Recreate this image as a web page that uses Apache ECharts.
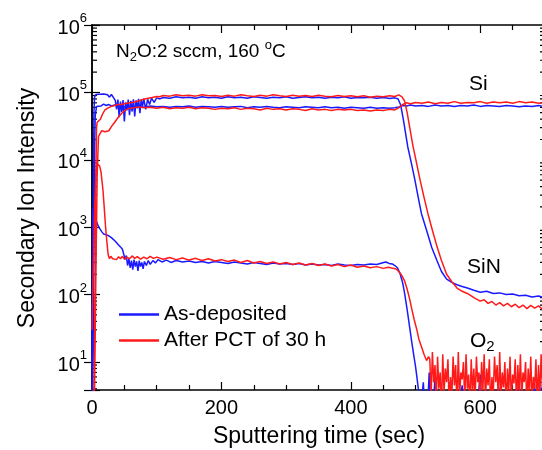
<!DOCTYPE html>
<html>
<head>
<meta charset="utf-8">
<script src="https://cdn.jsdelivr.net/npm/echarts@6/dist/echarts.min.js"></script>
<style>
  html, body { margin: 0; padding: 0; background: #fff; }
  #chart { width: 542px; height: 450px; }
</style>
</head>
<body>
<div id="chart"></div>
<script>
// [time (sec), intensity]
const asDepSi = [[0,2],[2,15],[3,800],[4,1.5e4],[5,4.5e4],[7,6.2e4],[10,6.6e4],[14,6.3e4],[18,6.7e4],[22,6.4e4],[26,6.6e4],[30,6.3e4],[35,6.5e4],[40,6.2e4],[45,6.4e4],[50,6.1e4],[55,6.3e4],[60,6.0e4],[70,6.2e4],[80,6.0e4],[90,6.3e4],[100,6.1e4],[110,6.2e4],[120,6.0e4],[130,6.2e4],[140,6.1e4],[150,6.3e4],[160,6.0e4],[170,6.2e4],[180,6.1e4],[190,6.0e4],[200,6.2e4],[210,6.0e4],[220,6.1e4],[230,6.2e4],[240,5.9e4],[250,6.1e4],[260,6.0e4],[270,6.2e4],[280,6.0e4],[290,5.9e4],[300,6.1e4],[310,6.0e4],[320,5.9e4],[330,6.1e4],[340,6.0e4],[350,5.9e4],[360,6.1e4],[370,5.9e4],[380,6.0e4],[390,5.8e4],[400,6.0e4],[410,5.9e4],[420,5.8e4],[430,6.0e4],[440,5.8e4],[450,5.9e4],[460,5.8e4],[468,5.9e4],[474,6.1e4],[480,6.4e4],[486,6.3e4],[492,6.5e4],[500,6.3e4],[510,6.4e4],[520,6.2e4],[530,6.5e4],[540,6.3e4],[550,6.4e4],[560,6.2e4],[570,6.4e4],[580,6.3e4],[590,6.5e4],[600,6.2e4],[610,6.4e4],[620,6.3e4],[630,6.2e4],[640,6.4e4],[650,6.3e4],[660,6.1e4],[670,6.3e4],[680,6.2e4],[690,6.4e4],[700,6.1e4]];

const asDepSiN = [[0,2],[1,40],[2,2500],[3,5e4],[4,8.6e4],[6,9.3e4],[9,8.7e4],[12,9.4e4],[15,8.8e4],[18,9.5e4],[21,8.9e4],[24,9.2e4],[27,8.5e4],[30,9.3e4],[33,8.7e4],[36,7.6e4],[38,5.6e4],[40,7.8e4],[42,4.3e4],[44,7.3e4],[46,5.1e4],[48,7.7e4],[50,3.7e4],[52,7.1e4],[54,5.4e4],[56,7.8e4],[58,4.6e4],[60,7.5e4],[62,5.2e4],[64,7.9e4],[66,4.4e4],[68,7.6e4],[70,5.8e4],[72,8.0e4],[74,4.9e4],[76,7.8e4],[78,6.1e4],[80,8.1e4],[83,5.6e4],[86,7.9e4],[89,6.6e4],[92,8.2e4],[96,7.1e4],[100,8.3e4],[105,8.0e4],[110,8.4e4],[120,8.2e4],[130,8.6e4],[140,8.3e4],[150,8.5e4],[160,8.2e4],[170,8.6e4],[180,8.3e4],[190,8.5e4],[200,8.2e4],[210,8.6e4],[220,8.3e4],[230,8.5e4],[240,8.2e4],[250,8.6e4],[260,8.4e4],[270,8.2e4],[280,8.5e4],[290,8.3e4],[300,8.6e4],[310,8.2e4],[320,8.4e4],[330,8.6e4],[340,8.3e4],[350,8.5e4],[360,8.2e4],[370,8.5e4],[380,8.3e4],[390,8.6e4],[400,8.2e4],[410,8.4e4],[420,8.3e4],[430,8.5e4],[440,8.2e4],[450,8.4e4],[460,8.1e4],[468,8.3e4],[473,8.0e4],[477,6.5e4],[481,4.0e4],[488,1.55e4],[494,8.5e3],[499,5.0e3],[504,2.8e3],[509,1.6e3],[517,900],[525,500],[533,320],[540,220],[548,170],[556,152],[564,140],[572,132],[580,125],[590,116],[600,108],[610,112],[620,104],[630,106],[640,100],[650,102],[660,96],[670,98],[680,92],[690,95],[700,89]];

const asDepO2 = [[0,8],[1,1900],[2,2000],[4,1600],[6,1300],[9,1070],[12,950],[15,860],[18,790],[21,760],[24,760],[27,740],[30,700],[33,660],[36,620],[40,560],[44,510],[47,470],[49,400],[51,330],[53,380],[55,270],[57,340],[59,250],[61,320],[63,235],[65,330],[67,260],[69,310],[71,225],[73,320],[75,260],[77,300],[79,240],[81,310],[84,270],[87,320],[90,280],[94,320],[98,295],[102,330],[108,305],[115,325],[122,300],[130,320],[140,305],[150,315],[160,300],[170,310],[180,295],[190,310],[200,300],[210,290],[220,305],[230,295],[240,285],[250,300],[260,290],[270,280],[280,295],[290,285],[300,290],[310,280],[320,290],[330,275],[340,285],[350,275],[360,280],[370,270],[380,285],[390,275],[400,270],[410,280],[420,275],[430,285],[440,280],[448,295],[454,305],[459,290],[464,285],[468,270],[472,250],[476,205],[480,150],[483,105],[487,60],[491,32],[494,20],[497,13],[500,8.5],[502,6],[504,4.2],[506,3],[508,2],[512,5],[514,2],[518,1.5],[521,7],[523,2],[527,1.8],[530,6],[532,2],[537,1.5],[542,2],[548,1.6],[553,5],[555,1.8],[560,2],[566,1.5],[572,4.5],[574,1.6],[580,2],[588,1.5],[595,2],[600,6.5],[602,1.8],[610,1.5],[618,2],[625,1.6],[632,4.8],[634,1.8],[640,1.5],[648,2],[655,1.6],[660,5.5],[662,1.8],[670,2],[678,1.5],[684,4.6],[686,1.6],[692,2],[698,7],[700,2]];

const pctSi = [[0,2],[4,4],[6,200],[8,6e3],[10,2.2e4],[12,2.4e4],[15,2.7e4],[17,2.8e4],[20,2.6e4],[23,2.5e4],[26,2.7e4],[30,3.1e4],[35,3.6e4],[40,4.2e4],[46,4.9e4],[52,5.5e4],[58,5.8e4],[65,5.9e4],[72,6.1e4],[80,5.9e4],[90,6.0e4],[100,5.8e4],[110,6.0e4],[120,5.7e4],[130,5.9e4],[140,5.8e4],[150,6.0e4],[160,5.7e4],[170,5.9e4],[180,5.8e4],[190,5.6e4],[200,5.8e4],[210,5.7e4],[220,5.9e4],[230,5.6e4],[240,5.8e4],[250,5.7e4],[260,5.5e4],[270,5.8e4],[280,5.6e4],[290,5.7e4],[300,5.5e4],[310,5.7e4],[320,5.6e4],[330,5.4e4],[340,5.7e4],[350,5.5e4],[360,5.6e4],[370,5.4e4],[380,5.6e4],[390,5.5e4],[400,5.6e4],[410,5.4e4],[420,5.5e4],[430,5.3e4],[440,5.5e4],[450,5.4e4],[460,5.6e4],[468,5.5e4],[474,5.9e4],[480,6.6e4],[486,7.0e4],[492,6.8e4],[500,7.1e4],[510,6.9e4],[520,7.2e4],[530,6.8e4],[540,7.1e4],[550,6.9e4],[560,7.3e4],[570,6.9e4],[580,7.1e4],[590,7.0e4],[600,7.3e4],[610,6.9e4],[620,7.2e4],[630,7.0e4],[640,7.2e4],[650,6.9e4],[660,7.3e4],[670,7.0e4],[680,7.2e4],[690,6.9e4],[700,7.1e4]];

const pctSiN = [[0,2],[3,4],[5,150],[6,6e3],[7,3e4],[8,3.6e4],[10,3.4e4],[13,4.0e4],[16,4.7e4],[20,5.5e4],[25,5.9e4],[30,6.2e4],[35,6.4e4],[40,6.6e4],[45,6.6e4],[50,6.8e4],[58,7.0e4],[66,7.2e4],[74,7.6e4],[80,7.9e4],[87,8.2e4],[93,8.4e4],[100,8.7e4],[105,8.6e4],[110,9.0e4],[120,8.8e4],[130,9.2e4],[140,8.9e4],[150,9.1e4],[160,8.8e4],[170,9.2e4],[180,8.9e4],[190,9.0e4],[200,8.7e4],[210,9.1e4],[220,8.8e4],[230,9.2e4],[240,8.9e4],[250,8.7e4],[260,9.1e4],[270,8.8e4],[280,9.2e4],[290,8.9e4],[300,8.7e4],[310,9.1e4],[320,8.8e4],[330,9.0e4],[340,8.7e4],[350,9.1e4],[360,8.8e4],[370,8.6e4],[380,9.0e4],[390,8.7e4],[400,8.9e4],[410,8.6e4],[420,8.9e4],[430,8.5e4],[440,8.8e4],[450,8.6e4],[460,8.9e4],[468,8.7e4],[474,9.2e4],[479,8.6e4],[483,7.5e4],[487,5.0e4],[491,3.0e4],[496,1.6e4],[501,9.5e3],[507,5.0e3],[513,2.8e3],[519,1.6e3],[526,900],[533,520],[540,320],[548,200],[556,155],[564,125],[572,112],[580,104],[586,96],[592,88],[600,80],[606,84],[612,74],[618,79],[624,70],[630,76],[636,68],[642,74],[648,66],[654,72],[660,64],[666,70],[672,62],[678,69],[684,63],[690,68],[696,61],[700,65]];

const pctO2 = [[0,30],[2,250],[4,1800],[6,6000],[8,8800],[10,9000],[12,8000],[14,6500],[17,3500],[19,1900],[21,1000],[23,600],[25,390],[27,340],[29,370],[32,340],[35,360],[38,330],[41,365],[44,340],[47,370],[50,335],[54,360],[58,340],[62,375],[66,345],[70,365],[75,335],[80,360],[85,340],[90,370],[95,345],[100,360],[110,335],[120,355],[130,330],[140,350],[150,325],[160,345],[170,320],[180,340],[190,315],[200,330],[210,310],[220,325],[230,300],[240,320],[250,295],[260,310],[270,290],[280,305],[290,285],[300,300],[310,280],[320,295],[330,275],[340,290],[350,270],[360,285],[370,265],[380,280],[390,260],[400,275],[410,255],[420,265],[430,250],[440,260],[450,245],[458,255],[465,245],[470,240],[475,215],[479,190],[483,160],[487,120],[491,85],[494,62],[498,42],[502,30],[505,22],[509,17],[513,13],[517,10.5],[520,12],[522,11],[524,3],[526,14],[528,5],[530,9],[532,2.5],[534,12],[536,4],[538,7],[540,2],[542,13],[544,3.5],[546,8],[548,5],[550,11],[552,2.2],[554,6],[556,3],[558,12],[560,4.5],[562,9],[564,2],[566,14],[568,3],[570,7],[572,5.5],[574,10],[576,2.5],[578,13],[580,4],[582,6.5],[584,2],[586,11],[588,3.5],[590,8],[592,2.8],[594,12],[596,5],[598,7],[600,2.2],[602,10],[604,3.8],[606,13],[608,2.5],[610,8],[612,4.5],[614,11],[616,2],[618,6],[620,3.2],[622,12],[624,5],[626,9],[628,2.4],[630,14],[632,3],[634,7],[636,4.2],[638,10],[640,2],[642,8],[644,3.6],[646,12],[648,2.6],[650,6.5],[652,4.8],[654,11],[656,2.2],[658,9],[660,3.4],[662,13],[664,2.8],[666,7],[668,5],[670,10],[672,2],[674,8],[676,3.5],[678,12],[680,2.5],[682,6],[684,4],[686,11],[688,2.2],[690,9],[692,3],[694,13],[696,4.4],[698,7.5],[700,2.6]];

const legendNames = ['As-deposited', 'After PCT of 30 h'];
const xTicks = { min: 0, max: 700, interval: 200 };
const yRange = { min: 3.84, max: 1e6 };
const decades = [1, 10, 100, 1000, 1e4, 1e5];
const minorSteps = [2, 3, 4, 5, 6, 7, 8, 9];

const BLUE = '#1a1aff';
const RED = '#ff1a1a';
const FONT = 'Liberation Sans, Arial, sans-serif';

// log minor ticks (2..9 per decade) drawn through the y scale
const minorY = [];
decades.forEach((d) => {
  minorSteps.forEach((k) => {
    if (k * d >= yRange.min && k * d <= yRange.max) minorY.push([0, k * d]);
  });
});

const chart = echarts.init(document.getElementById('chart'), null, { renderer: 'canvas' });

const lineSeries = (name, data, color) => ({
  name,
  type: 'line',
  data,
  symbol: 'none',
  showSymbol: false,
  clip: true,
  lineStyle: { color, width: 1.5 },
  itemStyle: { color },
  emphasis: { disabled: true },
  animation: false,
});

const yLabel = (value) => {
  const e = Math.log10(value);
  const r = Math.round(e);
  if (Math.abs(e - r) > 1e-6) return '';
  return '{b|10}{s|' + r + '}';
};

const tickStyle = { color: '#000', width: 1.2 };

const option = {
  animation: false,
  grid: { left: 92, top: 25, width: 453, height: 365, containLabel: false, outerBoundsMode: 'none' },
  legend: {
    data: legendNames,
    orient: 'vertical',
    left: 119,
    top: 304,
    padding: 0,
    icon: 'rect',
    itemWidth: 40,
    itemHeight: 2.5,
    itemGap: 5,
    textStyle: { fontFamily: FONT, fontSize: 21, color: '#000' },
    selectedMode: false,
  },
  xAxis: [
    {
      type: 'value',
      min: xTicks.min,
      max: xTicks.max,
      interval: xTicks.interval,
      axisLine: { lineStyle: { color: '#000', width: 1.5 } },
      axisTick: { inside: true, length: 8, lineStyle: tickStyle },
      minorTick: { show: true, splitNumber: 4, length: 5, lineStyle: tickStyle },
      splitLine: { show: false },
      axisLabel: { color: '#000', fontFamily: FONT, fontSize: 20, margin: 8, showMaxLabel: false },
    },
    {
      type: 'value',
      position: 'top',
      min: xTicks.min,
      max: xTicks.max,
      interval: xTicks.interval,
      axisLine: { lineStyle: { color: '#000', width: 1.5 } },
      axisTick: { inside: true, length: 8, lineStyle: tickStyle },
      minorTick: { show: true, splitNumber: 4, length: 5, lineStyle: tickStyle },
      splitLine: { show: false },
      axisLabel: { show: false },
    },
  ],
  yAxis: [
    {
      type: 'log',
      logBase: 10,
      min: yRange.min,
      max: yRange.max,
      axisLine: { lineStyle: { color: '#000', width: 1.5 } },
      axisTick: { inside: true, length: 8, lineStyle: tickStyle },
      splitLine: { show: false },
      axisLabel: {
        formatter: yLabel,
        margin: 5,
        rich: {
          b: { fontFamily: FONT, fontSize: 20, color: '#000', lineHeight: 19, verticalAlign: 'bottom' },
          s: { fontFamily: FONT, fontSize: 13, color: '#000', lineHeight: 26, verticalAlign: 'top' },
        },
      },
    },
    {
      type: 'log',
      logBase: 10,
      position: 'right',
      min: yRange.min,
      max: yRange.max,
      axisLine: { lineStyle: { color: '#000', width: 1.5 } },
      axisTick: { inside: true, length: 8, lineStyle: tickStyle },
      splitLine: { show: false },
      axisLabel: { show: false },
    },
  ],
  series: [
    lineSeries(legendNames[0], asDepO2, BLUE),
    lineSeries(legendNames[0], asDepSi, BLUE),
    lineSeries(legendNames[0], asDepSiN, BLUE),
    lineSeries(legendNames[1], pctO2, RED),
    lineSeries(legendNames[1], pctSi, RED),
    lineSeries(legendNames[1], pctSiN, RED),
    {
      type: 'custom',
      silent: true,
      clip: false,
      data: minorY,
      renderItem: (params, api) => {
        const v = api.value(1);
        const a = api.coord([xTicks.min, v]);
        const b = api.coord([xTicks.max, v]);
        const style = { stroke: '#000', lineWidth: 1.2 };
        return {
          type: 'group',
          children: [
            { type: 'line', shape: { x1: a[0], y1: a[1], x2: a[0] + 5, y2: a[1] }, style },
            { type: 'line', shape: { x1: b[0] - 5, y1: b[1], x2: b[0], y2: b[1] }, style },
          ],
        };
      },
    },
  ],
  graphic: [
    {
      type: 'text',
      left: 116,
      top: 39,
      style: {
        text: '{a|N}{sub|2}{a|O:2 sccm, 160 }{sup|o}{a|C}',
        rich: {
          a: { fontFamily: FONT, fontSize: 19, fill: '#000', lineHeight: 25, verticalAlign: 'middle' },
          sub: { fontFamily: FONT, fontSize: 13, fill: '#000', lineHeight: 18, verticalAlign: 'bottom' },
          sup: { fontFamily: FONT, fontSize: 13, fill: '#000', lineHeight: 12, verticalAlign: 'top' },
        },
      },
    },
    { type: 'text', left: 469, top: 74, style: { text: 'Si', fontFamily: FONT, fontSize: 21, fill: '#000' } },
    { type: 'text', left: 467, top: 257, style: { text: 'SiN', fontFamily: FONT, fontSize: 21, fill: '#000' } },
    {
      type: 'text',
      left: 470,
      top: 331,
      style: {
        text: '{a|O}{sub|2}',
        rich: {
          a: { fontFamily: FONT, fontSize: 21, fill: '#000', lineHeight: 26, verticalAlign: 'middle' },
          sub: { fontFamily: FONT, fontSize: 15, fill: '#000', lineHeight: 19, verticalAlign: 'bottom' },
        },
      },
    },
    {
      type: 'text',
      x: 319,
      y: 437,
      style: { text: 'Sputtering time (sec)', fontFamily: FONT, fontSize: 23, fill: '#000', align: 'center', verticalAlign: 'middle' },
    },
    {
      type: 'text',
      x: 28,
      y: 208,
      rotation: Math.PI / 2,
      style: { text: 'Secondary Ion Intensity', fontFamily: FONT, fontSize: 23, fill: '#000', align: 'center', verticalAlign: 'middle' },
    },
  ],
};

chart.setOption(option);
</script>
</body>
</html>
